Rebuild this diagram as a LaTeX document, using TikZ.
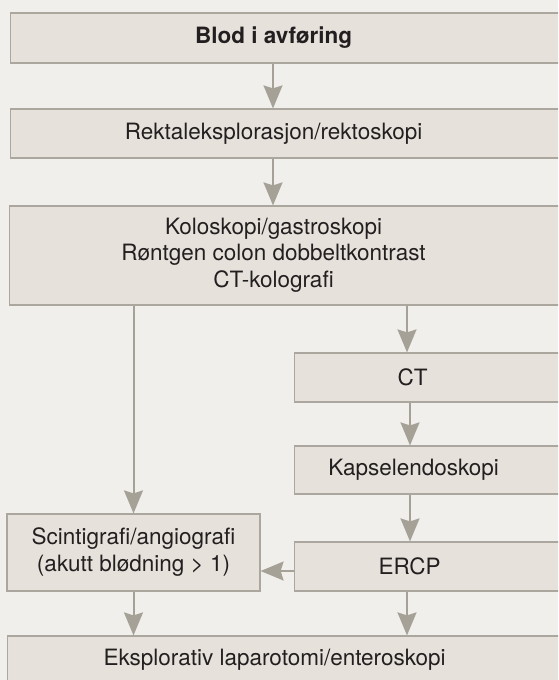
\documentclass[tikz,border=0pt]{standalone}
\usepackage{fontspec}
\setmainfont{TeX Gyre Heros}
\usetikzlibrary{arrows.meta}
\definecolor{bgcol}{HTML}{F0EFEB}
\definecolor{boxfill}{HTML}{E6E2DB}
\definecolor{boxline}{HTML}{ABA79E}
\definecolor{arrcol}{HTML}{A5A197}
\definecolor{txtcol}{HTML}{231F20}

\begin{document}
\begin{tikzpicture}[x = 1pt, y = -1pt,
  every node/.style = {draw = boxline, fill = boxfill, line width = 1.2pt, inner sep = 0pt, text = txtcol, font = \fontsize{22.5}{26.5}\selectfont},
  openbox/.style = {anchor = west, minimum height = 49pt},
  arr/.style = {draw = arrcol, line width = 2pt, -{Stealth[length = 23pt, width = 19pt, inset = 3pt]}}]
  \useasboundingbox[fill = bgcol] (0,0) rectangle (558,680);
  \clip (0,0) rectangle (558,680);
  % boxes
  \node[openbox, minimum height = 50pt] (blod) at (10,38) {\makebox[526pt]{\bfseries Blod i avføring}\hspace*{40pt}};
  \node[openbox] (rekt) at (10,133.5) {\makebox[526pt]{Rektaleksplorasjon/rektoskopi}\hspace*{40pt}};
  \node[openbox, minimum height = 99pt] (kolo) at (9,255.5) {\makebox[528pt]{\begin{tabular}{@{}c@{}}Koloskopi/gastroskopi\\Røntgen colon dobbeltkontrast\\CT-kolografi\end{tabular}}\hspace*{40pt}};
  \node[openbox] (ct) at (294,377.5) {\makebox[236pt]{CT}\hspace*{40pt}};
  \node[openbox, minimum height = 48pt] (kapsel) at (294,470) {\makebox[238pt]{Kapselendoskopi}\hspace*{40pt}};
  \node[openbox] (ercp) at (294,566.5) {\makebox[230pt]{ERCP}\hspace*{40pt}};
  \node[minimum width = 253pt, minimum height = 77pt] (scinti) at (133.5,552.5) {\begin{tabular}{@{}c@{}}Scintigrafi/angiografi\\(akutt blødning > 1)\end{tabular}};
  \node[openbox, minimum height = 48pt] (eksp) at (7,660) {\makebox[534pt]{Eksplorativ laparotomi/enteroskopi}\hspace*{40pt}};
  % arrows
  \draw[arr] ([xshift = 263pt]blod.south west) -- ([xshift = 263pt]rekt.north west);
  \draw[arr] ([xshift = 263pt]rekt.south west) -- ([xshift = 264pt]kolo.north west);
  \draw[arr] (kolo.south -| scinti.north) -- (scinti.north);
  \draw[arr] ([xshift = 398pt]kolo.south west) -- ([xshift = 113pt]ct.north west);
  \draw[arr] ([xshift = 116pt]ct.south west) -- ([xshift = 116pt]kapsel.north west);
  \draw[arr] ([xshift = 116pt]kapsel.south west) -- ([xshift = 116pt]ercp.north west);
  \draw[arr] ([yshift = -4.5pt]ercp.west) -- ([yshift = -4.5pt]ercp.west -| scinti.east);
  \draw[arr] (scinti.south) -- (scinti.south |- eksp.north);
  \draw[arr] ([xshift = 113pt]ercp.south west) -- ([xshift = 113pt]ercp.south west |- eksp.north);
\end{tikzpicture}
\end{document}
